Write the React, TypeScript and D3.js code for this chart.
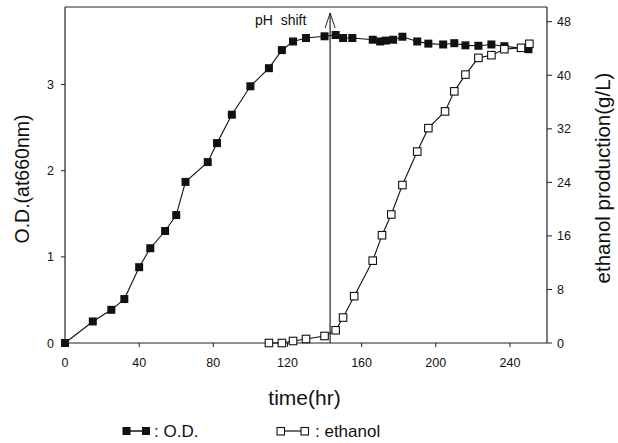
import React from "react";
import * as d3 from "d3";

const odTime = [0, 15, 25, 32, 40, 46, 54, 60, 65, 77, 82, 90, 100, 110, 117, 123, 130, 140, 146, 150, 155, 166, 170, 173, 177, 182, 190, 196, 204, 210, 216, 223, 230, 237, 250];
const odValue = [0, 0.25, 0.385, 0.51, 0.88, 1.1, 1.3, 1.485, 1.87, 2.1, 2.32, 2.65, 2.98, 3.19, 3.4, 3.5, 3.54, 3.56, 3.575, 3.54, 3.54, 3.52, 3.5, 3.51, 3.52, 3.555, 3.5, 3.475, 3.465, 3.48, 3.455, 3.45, 3.465, 3.445, 3.41];

const ethTime = [110, 117, 123, 130, 140, 146, 150, 156, 166, 171, 176, 182, 190, 196, 205, 210, 216, 223, 230, 237, 246, 250.5];
const ethValue = [0, 0, 0.3, 0.6, 1.05, 1.9, 3.8, 7.0, 12.3, 16.1, 19.2, 23.6, 28.6, 32.1, 34.6, 37.6, 40.1, 42.6, 43.0, 43.9, 44.1, 44.7];

const xTicks = [0, 40, 80, 120, 160, 200, 240];
const leftTicks = [0, 1, 2, 3];
const rightTicks = [0, 8, 16, 24, 32, 40, 48];
const phShiftTime = 143;

const W = 618, H = 443;
const L = 65, R = 547, T = 7, B = 343;
const FONT = "Arial, 'Liberation Sans', Helvetica, sans-serif";

export default function App() {
  const x = d3.scaleLinear().domain([0, 260]).range([L, R]);
  const yL = d3.scaleLinear().domain([0, 3.9]).range([B, T]);
  const yR = d3.scaleLinear().domain([0, 50.2]).range([B, T]);

  const odPts = odTime.map((t, i) => [x(t), yL(odValue[i])] as [number, number]);
  const ethPts = ethTime.map((t, i) => [x(t), yR(ethValue[i])] as [number, number]);
  const line = d3.line();
  const s = 8;
  const so = 7.5;
  const px = x(phShiftTime);

  return (
    <svg width={W} height={H} style={{ position: "absolute", left: 0, top: 0, background: "#fff" }} fontFamily={FONT}>
      <rect x={0} y={0} width={W} height={H} fill="#fff" />
      {/* frame */}
      <line x1={L} x2={R} y1={T} y2={T} stroke="#222" strokeWidth={1} />
      <line x1={L} x2={L} y1={T} y2={B} stroke="#222" strokeWidth={1.2} />
      <line x1={R} x2={R} y1={T} y2={B} stroke="#222" strokeWidth={1.2} />
      <line x1={L} x2={R} y1={B} y2={B} stroke="#222" strokeWidth={1.2} />

      {/* x ticks */}
      {xTicks.map((t) => (
        <g key={"x" + t}>
          <line x1={x(t)} x2={x(t)} y1={B} y2={B + 4} stroke="#222" />
          <text x={x(t)} y={B + 24} fontSize={12.5} textAnchor="middle" fill="#111">{t}</text>
        </g>
      ))}
      {/* left ticks */}
      {leftTicks.map((v) => (
        <g key={"l" + v}>
          <line x1={L - 4} x2={L} y1={yL(v)} y2={yL(v)} stroke="#222" />
          <text x={L - 11} y={yL(v) + 4.5} fontSize={12.5} textAnchor="end" fill="#111">{v}</text>
        </g>
      ))}
      {/* right ticks */}
      {rightTicks.map((v) => (
        <g key={"r" + v}>
          <line x1={R} x2={R + 5} y1={yR(v)} y2={yR(v)} stroke="#222" />
          <text x={R + 10} y={yR(v) + 4.5} fontSize={12.5} textAnchor="start" fill="#111">{v}</text>
        </g>
      ))}

      {/* axis titles */}
      <text transform={`translate(29,179) rotate(-90)`} fontSize={19.5} textAnchor="middle" fill="#111">O.D.(at660nm)</text>
      <text transform={`translate(610,178) rotate(-90)`} fontSize={20.5} textAnchor="middle" fill="#111">ethanol production(g/L)</text>
      <text x={304.5} y={405} fontSize={21} textAnchor="middle" fill="#111">time(hr)</text>

      {/* OD series */}
      <path d={line(odPts) || ""} fill="none" stroke="#111" strokeWidth={1.1} />
      {odPts.map((p, i) => (
        <rect key={"o" + i} x={p[0] - s / 2} y={p[1] - s / 2} width={s} height={s} fill="#111" />
      ))}

      {/* ethanol series */}
      <path d={line(ethPts) || ""} fill="none" stroke="#111" strokeWidth={1.1} />
      {ethPts.map((p, i) => (
        <rect key={"e" + i} x={p[0] - so / 2} y={p[1] - so / 2} width={so} height={so} fill="#fff" stroke="#111" strokeWidth={1.1} />
      ))}

      {/* pH shift marker */}
      <line x1={px} x2={px} y1={B} y2={13} stroke="#222" strokeWidth={1.2} />
      <polyline points={`${px - 5},28 ${px},13 ${px + 5},28`} fill="none" stroke="#222" strokeWidth={1} />
      <text x={255} y={25} fontSize={14} fill="#111" style={{ whiteSpace: "pre" }}>{"pH  shift"}</text>

      {/* legend */}
      <line x1={126.5} x2={146} y1={431} y2={431} stroke="#111" strokeWidth={1.5} />
      <rect x={122.5} y={427} width={8} height={8} fill="#111" />
      <rect x={142} y={427} width={8} height={8} fill="#111" />
      <text x={154} y={437} fontSize={17} fill="#111">: O.D.</text>

      <line x1={281} x2={304} y1={431} y2={431} stroke="#111" strokeWidth={1.2} />
      <rect x={277} y={427.5} width={7.5} height={7.5} fill="#fff" stroke="#111" strokeWidth={1.1} />
      <rect x={301} y={427.5} width={7.5} height={7.5} fill="#fff" stroke="#111" strokeWidth={1.1} />
      <text x={315} y={437} fontSize={17} fill="#111">: ethanol</text>
    </svg>
  );
}
